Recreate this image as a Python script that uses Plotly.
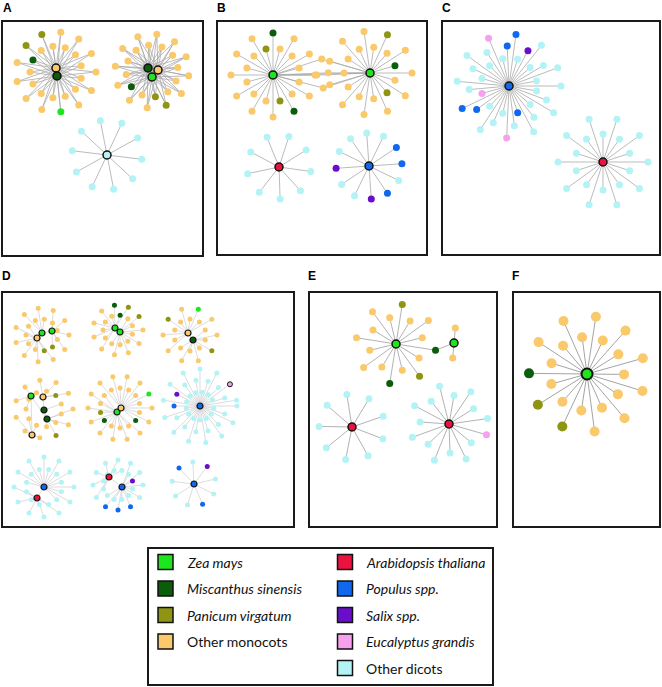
import math
import plotly.graph_objects as go

# ---------------- data ----------------
SPECIES_CODES = ["Z", "M", "P", "O", "A", "U", "S", "E", "D"]
SPECIES_NAMES = ["Zea mays", "Miscanthus sinensis", "Panicum virgatum", "Other monocots",
                 "Arabidopsis thaliana", "Populus spp.", "Salix spp.", "Eucalyptus grandis",
                 "Other dicots"]
SPECIES_ITALIC = [True, True, True, False, True, True, True, True, False]
PANEL_LABELS = ["A", "B", "C", "D", "E", "F"]

# hub species and leaf species of every star (one letter per node, lowercase = outlined node)
A1_HUBS, A1_LEAVES = "OM", "OOOOOOZOOOOOOOOMPOPOOOOOOO"
A2_HUBS, A2_LEAVES = "MOZ", "OOOOPPOOOMOOOOOOOOOOOOOO"
A3_HUBS, A3_LEAVES = "D", "DDDDDDDDDD"
B1_HUBS, B1_LEAVES = "Z", "OOOOMPOOOOOOOOOOOPMOOOOO"
B2_HUBS, B2_LEAVES = "Z", "OOOPOOOOOOOOOOOOOOPOOM"
B_BRIDGE = "OOOO"
B3_HUBS, B3_LEAVES = "A", "DDDDDDDDD"
B4_HUBS, B4_LEAVES = "U", "UDUSDDSDDDDU"
C1_HUBS, C1_LEAVES = "U", "DDDDDDDUDEDDDDUUEDDDDDDDEDUUDSDDDDD"
C2_HUBS, C2_LEAVES = "A", "DDDDDDDDDDDDDDDDDDDD"
D1_HUBS, D1_LEAVES = "OZZ", "OOOPOPOOOOOOOOOOOOOOOO"
D2_HUBS, D2_LEAVES = "ZZ", "OOOOOOOOOOOOOOOOMMPOPO"
D3_HUBS, D3_LEAVES = "OM", "OOPOOOOOOOOOPOOOZOOO"
D4_HUBS, D4_LEAVES = "OMMZO", "OOOOPOOOOOOOOOOOOOOPOO"
D5_HUBS, D5_LEAVES = "ZO", "OOOMOOOOOOOMOPOOOOOOOOOOOOZO"
D6_HUBS, D6_LEAVES = "U", "DDDDDDDDDDDDDDDDDDDDUDDSDDDDDDDDDDDDeDDD"
D7_HUBS, D7_LEAVES = "UA", "DDDDDDDDDDDDDDDDDDDDDDDD"
D8_HUBS, D8_LEAVES = "AU", "DDDDUDUDUDDDDDDDDDDDDDDS"
D9_HUBS, D9_LEAVES = "U", "DDUDDDUDS"
E1_HUBS, E1_LEAVES = "Z", "MOPOMOOOOOOOPOOO"
E1B_HUBS, E1B_LEAVES = "Z", "OO"
E2_HUBS, E2_LEAVES = "A", "DDDDDDDDD"
E3_HUBS, E3_LEAVES = "A", "EDDDDDDDDDDDDDD"
F1_HUBS, F1_LEAVES = "Z", "OOOOOOPOPOMOOOOOOOOOOO"

STARS = [
    ("A1", A1_HUBS, A1_LEAVES), ("A2", A2_HUBS, A2_LEAVES), ("A3", A3_HUBS, A3_LEAVES),
    ("B1", B1_HUBS, B1_LEAVES), ("B2", B2_HUBS, B2_LEAVES), ("B3", B3_HUBS, B3_LEAVES),
    ("B4", B4_HUBS, B4_LEAVES), ("C1", C1_HUBS, C1_LEAVES), ("C2", C2_HUBS, C2_LEAVES),
    ("D1", D1_HUBS, D1_LEAVES), ("D2", D2_HUBS, D2_LEAVES), ("D3", D3_HUBS, D3_LEAVES),
    ("D4", D4_HUBS, D4_LEAVES), ("D5", D5_HUBS, D5_LEAVES), ("D6", D6_HUBS, D6_LEAVES),
    ("D7", D7_HUBS, D7_LEAVES), ("D8", D8_HUBS, D8_LEAVES), ("D9", D9_HUBS, D9_LEAVES),
    ("E1", E1_HUBS, E1_LEAVES), ("E1B", E1B_HUBS, E1B_LEAVES), ("E2", E2_HUBS, E2_LEAVES),
    ("E3", E3_HUBS, E3_LEAVES), ("F1", F1_HUBS, F1_LEAVES),
]

# ---------------- layout (positions / sizes / styles) ----------------
W, H = 662, 687
COLOR = {"Z": "#1EE61E", "M": "#0B5C0B", "P": "#8F9512", "O": "#F9C96B", "A": "#EC1240",
         "U": "#1068EE", "S": "#6A0ECB", "E": "#F6A0EE", "D": "#B4F3F5"}

PANEL_BOX = {"A": (2, 21, 203, 256), "B": (217, 21, 427, 255), "C": (442, 21, 660, 255),
             "D": (2, 292, 294, 527), "E": (309, 292, 497, 527), "F": (513, 292, 660, 527)}
PANEL_LABEL_POS = {"A": (7, 8), "B": (221, 8), "C": (446, 8),
                   "D": (6, 276), "E": (312, 276), "F": (515, 276)}
PANEL_NODE_SIZE = {"A": (7, 8), "B": (7, 8), "C": (7, 8), "D": (5, 6), "E": (7, 8), "F": (10, 11)}
PANEL_EDGE = {"A": ("#a9a9a9", 0.8), "B": ("#a9a9a9", 0.8), "C": ("#a9a9a9", 0.8),
              "D": ("#c4c4c4", 0.6), "E": ("#a0a0a0", 0.8), "F": ("#9a9a9a", 0.9)}
# stars whose leaves are linked to every hub (others: nearest hub only)
ALL_HUB_LINKS = {"A1", "A2"}

STAR_LAYOUT = {
    "A1": dict(c=(56, 72), hubs=[(0, -4), (1, 4)], a0=0, r=[40, 26]),
    "A2": dict(c=(152, 71), hubs=[(-4, -3), (6, -1), (0, 6)], a0=7.5, r=[37, 26]),
    "A3": dict(c=(107, 155), hubs=[(0, 0)], a0=7, r=[35]),
    "B1": dict(c=(273, 75), hubs=[(0, 0)], a0=0, r=[42, 27]),
    "B2": dict(c=(370, 73), hubs=[(0, 0)], a0=0, r=[42, 26]),
    "B3": dict(c=(279, 167), hubs=[(0, 0)], a0=8, r=[32]),
    "B4": dict(c=(369, 166), hubs=[(0, 0)], a0=-4, r=[33]),
    "C1": dict(c=(509, 86), hubs=[(0, 0)], a0=0, r=[52, 28, 40]),
    "C2": dict(c=(603, 162), hubs=[(0, 0)], a0=0, r=[45, 28]),
    "D1": dict(c=(42, 335), hubs=[(-5, 3), (0, -2), (10, -4)], a0=0, r=[27, 16]),
    "D2": dict(c=(118, 330), hubs=[(-3, -2), (2, 2)], a0=0, r=[25, 15]),
    "D3": dict(c=(190, 335), hubs=[(-2, -2), (3, 5)], a0=0, r=[27, 16]),
    "D4": dict(c=(44, 409), hubs=[(-1, -12), (0, 1), (3, 10), (-13, -13), (-12, 26)], a0=0, r=[29, 18]),
    "D5": dict(c=(120, 408), hubs=[(-3, 4), (1, 0)], a0=0, r=[32, 20]),
    "D6": dict(c=(200, 406), hubs=[(0, 0)], a0=0, r=[37, 14, 26]),
    "D7": dict(c=(44, 487), hubs=[(0, 0), (-7, 11)], a0=0, r=[30, 18]),
    "D8": dict(c=(118, 485), hubs=[(-9, -8), (4, 2)], a0=0, r=[25, 15]),
    "D9": dict(c=(194, 484), hubs=[(0, 0)], a0=-13, r=[22]),
    "E1": dict(c=(396, 344), hubs=[(0, 0)], a0=9, r=[40, 27]),
    "E1B": dict(c=(454, 343), hubs=[(0, 0)], a0=95, r=[15]),
    "E2": dict(c=(352, 427), hubs=[(0, 0)], a0=21, r=[33]),
    "E3": dict(c=(449, 424), hubs=[(0, 0)], a0=16, r=[39, 29]),
    "F1": dict(c=(587, 374), hubs=[(0, 0)], a0=17, r=[58, 37]),
}
# bridge nodes between B1 and B2 hubs: (fraction along hub line, perpendicular offset)
B_BRIDGE_LAYOUT = [(0.505, -15), (0.45, 1), (0.57, -1), (0.515, 14)]
# extra edges: (star with hub, star with leaf, leaf index)
EXTRA_EDGES = [("E1B", "E1", 0)]

# ---------------- build ----------------
fig = go.Figure()
hub_pos = {}
leaf_pos = {}
edges = {p: ([], []) for p in PANEL_LABELS}
leaves = []   # (x, y, code, panel)
hubs = []


def add_edge(panel, p, q):
    ex, ey = edges[panel]
    ex.extend([p[0], q[0], None])
    ey.extend([p[1], q[1], None])


for name, hub_codes, leaf_codes in STARS:
    L = STAR_LAYOUT[name]
    cx, cy = L["c"]
    panel = name[0]
    hp = [(cx + dx, cy + dy) for dx, dy in L["hubs"]]
    hub_pos[name] = hp
    n = len(leaf_codes)
    lp = []
    for i, code in enumerate(leaf_codes):
        a = math.radians(L["a0"] + i * 360.0 / n)
        r = L["r"][i % len(L["r"])]
        p = (cx + r * math.cos(a), cy + r * math.sin(a))
        lp.append(p)
        if name in ALL_HUB_LINKS:
            for h in hp:
                add_edge(panel, h, p)
        else:
            h = min(hp, key=lambda q: (q[0] - p[0]) ** 2 + (q[1] - p[1]) ** 2)
            add_edge(panel, h, p)
        leaves.append((p[0], p[1], code, panel))
    leaf_pos[name] = lp
    for j in range(len(hp) - 1):
        add_edge(panel, hp[j], hp[j + 1])
    for code, p in zip(hub_codes, hp):
        hubs.append((p[0], p[1], code, panel))

# bridges in panel B
h1 = hub_pos["B1"][0]
h2 = hub_pos["B2"][0]
dxh, dyh = h2[0] - h1[0], h2[1] - h1[1]
ln = math.hypot(dxh, dyh)
nx, ny = -dyh / ln, dxh / ln
for code, (t, off) in zip(B_BRIDGE, B_BRIDGE_LAYOUT):
    p = (h1[0] + t * dxh + off * nx, h1[1] + t * dyh + off * ny)
    add_edge("B", h1, p)
    add_edge("B", h2, p)
    leaves.append((p[0], p[1], code, "B"))
add_edge("B", h1, h2)

for hs, ls, idx in EXTRA_EDGES:
    add_edge(hs[0], hub_pos[hs][0], leaf_pos[ls][idx])

for p in PANEL_LABELS:
    ex, ey = edges[p]
    col, wd = PANEL_EDGE[p]
    fig.add_trace(go.Scatter(x=ex, y=ey, mode="lines", line=dict(color=col, width=wd),
                             hoverinfo="skip", showlegend=False))


def node_trace(nodes, is_hub):
    xs = [n[0] for n in nodes]
    ys = [n[1] for n in nodes]
    cols = [COLOR[n[2].upper()] for n in nodes]
    sizes = [PANEL_NODE_SIZE[n[3]][1 if is_hub else 0] for n in nodes]
    if is_hub:
        lw = [2.0 if n[3] == "F" else (1.2 if n[3] == "D" else 1.5) for n in nodes]
    else:
        lw = [1.0 if n[2].islower() else 0 for n in nodes]
    return go.Scatter(x=xs, y=ys, mode="markers",
                      marker=dict(color=cols, size=sizes, opacity=1,
                                  line=dict(color="#111111", width=lw)),
                      hoverinfo="skip", showlegend=False)


fig.add_trace(node_trace(leaves, False))
fig.add_trace(node_trace(hubs, True))

shapes = []
annotations = []
for p in PANEL_LABELS:
    x0, y0, x1, y1 = PANEL_BOX[p]
    shapes.append(dict(type="rect", xref="x", yref="y", x0=x0, y0=y0, x1=x1, y1=y1,
                       line=dict(color="#1a1a1a", width=2), fillcolor="rgba(0,0,0,0)", layer="below"))
    lx, ly = PANEL_LABEL_POS[p]
    annotations.append(dict(x=lx, y=ly, xref="x", yref="y", text="<b>%s</b>" % p,
                            showarrow=False, xanchor="center", yanchor="middle",
                            font=dict(family="Liberation Sans, Arial", size=12, color="#000")))

# legend
LEG_BOX = (148, 548, 493, 685)
shapes.append(dict(type="rect", xref="x", yref="y", x0=LEG_BOX[0], y0=LEG_BOX[1],
                   x1=LEG_BOX[2], y1=LEG_BOX[3], line=dict(color="#1a1a1a", width=2),
                   fillcolor="rgba(0,0,0,0)"))
leg_x, leg_y, leg_t = [], [], []
for k, (code, name, it) in enumerate(zip(SPECIES_CODES, SPECIES_NAMES, SPECIES_ITALIC)):
    col = 0 if k < 4 else 1
    row = k if k < 4 else k - 4
    sx = 165.5 if col == 0 else 345
    sy = 562 + row * 26.5
    leg_x.append(sx)
    leg_y.append(sy)
    leg_t.append(COLOR[code])
    annotations.append(dict(x=sx + 19, y=sy, xref="x", yref="y",
                            text=("<i>%s</i>" % name) if it else name,
                            showarrow=False, xanchor="left", yanchor="middle",
                            font=dict(family="Lato, Open Sans, sans-serif", size=14, color="#111")))
fig.add_trace(go.Scatter(x=leg_x, y=leg_y, mode="markers",
                         marker=dict(symbol="square", size=15, color=leg_t, opacity=1,
                                     line=dict(color="#111111", width=1.5)),
                         hoverinfo="skip", showlegend=False))

fig.update_layout(width=W, height=H, margin=dict(l=0, r=0, t=0, b=0),
                  paper_bgcolor="white", plot_bgcolor="white",
                  xaxis=dict(range=[0, W], visible=False, fixedrange=True),
                  yaxis=dict(range=[H, 0], visible=False, fixedrange=True),
                  shapes=shapes, annotations=annotations, showlegend=False)

fig.write_html("out.html", config={"displayModeBar": False},
               post_script="document.body.style.margin='0';document.body.style.overflow='hidden';")
